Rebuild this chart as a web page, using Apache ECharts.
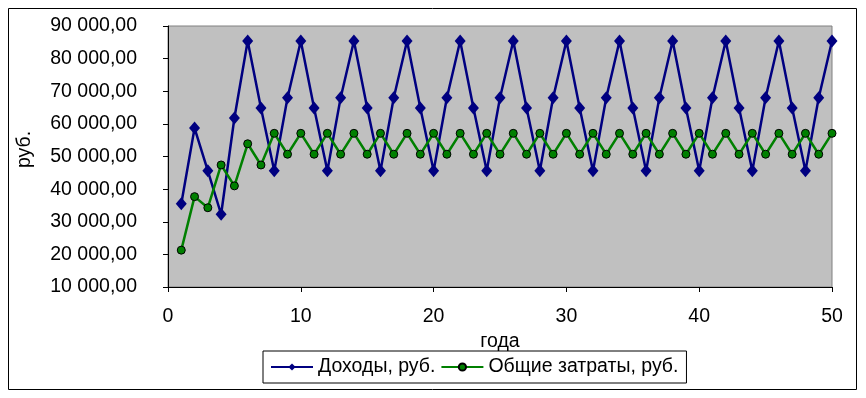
<!DOCTYPE html>
<html>
<head>
<meta charset="utf-8">
<script src="https://cdn.jsdelivr.net/npm/echarts@6/dist/echarts.min.js"></script>
<style>
  html, body { margin: 0; padding: 0; background: #fff; }
  #chart-container { width: 866px; height: 398px; }
</style>
</head>
<body>
<div id="chart-container"></div>
<script>
const years = [1, 2, 3, 4, 5, 6, 7, 8, 9, 10, 11, 12, 13, 14, 15, 16, 17, 18, 19, 20,
  21, 22, 23, 24, 25, 26, 27, 28, 29, 30, 31, 32, 33, 34, 35, 36, 37, 38, 39, 40,
  41, 42, 43, 44, 45, 46, 47, 48, 49, 50];
const income = [35500, 58700, 45600, 32300, 61800, 85400, 64900, 45600, 68000,
  85400, 64900, 45600, 68000, 85400, 64900, 45600, 68000, 85400, 64900, 45600, 68000,
  85400, 64900, 45600, 68000, 85400, 64900, 45600, 68000, 85400, 64900, 45600, 68000,
  85400, 64900, 45600, 68000, 85400, 64900, 45600, 68000, 85400, 64900, 45600, 68000,
  85400, 64900, 45600, 68000, 85400];
const costs = [21300, 37700, 34300, 47400, 41000, 53900, 47400,
  57100, 50700, 57100, 50700, 57100, 50700, 57100, 50700, 57100, 50700, 57100, 50700,
  57100, 50700, 57100, 50700, 57100, 50700, 57100, 50700, 57100, 50700, 57100, 50700,
  57100, 50700, 57100, 50700, 57100, 50700, 57100, 50700, 57100, 50700, 57100, 50700,
  57100, 50700, 57100, 50700, 57100, 50700, 57100];
const seriesNames = ["Доходы, руб.", "Общие затраты, руб."];

(() => {
  var dom = document.getElementById("chart-container");
  var chart = echarts.init(dom, null, { renderer: "canvas" });
  const font = "Liberation Sans";
  const fs = 19.5;
  const fmt = (v) => {
    const [i, d] = v.toFixed(2).split(".");
    return i.replace(/\B(?=(\d{3})+(?!\d))/g, " ") + "," + d;
  };
  const option = {
    animation: false,
    textStyle: { fontFamily: font, color: "#000" },
    graphic: [{
      type: "rect",
      shape: { x: 8.5, y: 8.5, width: 848, height: 381 },
      style: { fill: "none", stroke: "#000", lineWidth: 1 },
      silent: true,
    }],
    grid: {
      left: 168, right: 34, top: 26, bottom: 111,
      show: true,
      backgroundColor: "#c0c0c0",
      borderColor: "#808080",
      borderWidth: 1,
    },
    legend: {
      left: 263, top: 351,
      padding: [6, 8, 6, 7],
      itemGap: 5,
      itemWidth: 42, itemHeight: 9,
      borderColor: "#000", borderWidth: 1,
      textStyle: { fontFamily: font, fontSize: fs, color: "#000" },
      data: seriesNames,
    },
    xAxis: {
      type: "value",
      min: 0, max: 50, interval: 10,
      name: "года",
      nameLocation: "middle",
      nameGap: 36,
      nameTextStyle: { fontFamily: font, fontSize: fs, color: "#000" },
      axisLine: { onZero: false, lineStyle: { color: "#000", width: 1 } },
      axisTick: { show: true, inside: false, length: 5, lineStyle: { color: "#000" } },
      axisLabel: { fontFamily: font, fontSize: fs, color: "#000", margin: 20 },
      splitLine: { show: false },
    },
    yAxis: {
      type: "value",
      min: 10000, max: 90000, interval: 10000,
      name: "руб.",
      nameLocation: "middle",
      nameRotate: 90,
      nameGap: 133,
      nameTextStyle: { fontFamily: font, fontSize: fs, color: "#000", padding: [0, 0, 0, 14] },
      axisLine: { show: true, lineStyle: { color: "#000", width: 1 } },
      axisTick: { show: true, inside: false, length: 5, lineStyle: { color: "#000" } },
      axisLabel: { fontFamily: font, fontSize: fs, color: "#000", margin: 31, formatter: fmt },
      splitLine: { show: false },
    },
    series: [
      {
        name: seriesNames[0],
        type: "line",
        data: years.map((y, i) => [y, income[i]]),
        symbol: "diamond",
        symbolSize: [11, 13],
        lineStyle: { color: "#000080", width: 2.5 },
        itemStyle: { color: "#000080" },
      },
      {
        name: seriesNames[1],
        type: "line",
        data: years.map((y, i) => [y, costs[i]]),
        symbol: "circle",
        symbolSize: 8,
        lineStyle: { color: "#008000", width: 2.5 },
        itemStyle: { color: "#008000", borderColor: "#000", borderWidth: 1 },
      },
    ],
  };
  chart.setOption(option);
  window.addEventListener("resize", chart.resize);
})();
</script>
</body>
</html>
